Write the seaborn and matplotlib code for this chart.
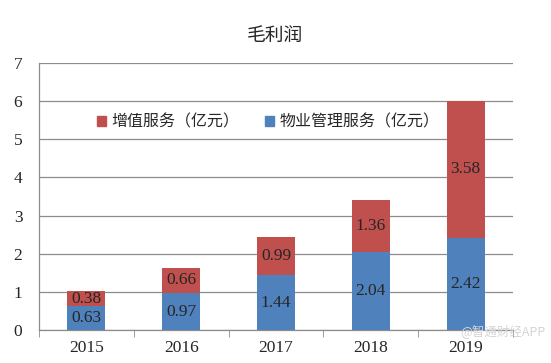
import pandas as pd
import seaborn as sns
import matplotlib.pyplot as plt
from matplotlib.patches import Patch

# Dati
years = ['2015', '2016', '2017', '2018', '2019']
property_mgmt = [0.63, 0.97, 1.44, 2.04, 2.42]
value_added = [0.38, 0.66, 0.99, 1.36, 3.58]

red = '#C0504D'
blue = '#4F81BD'

df = pd.DataFrame({'year': years, 'pm': property_mgmt, 'va': value_added})
df['total'] = df['pm'] + df['va']

sns.set_style('white')
plt.rcParams['font.family'] = ['Noto Sans CJK SC', 'DejaVu Sans']

fig = plt.figure(figsize=(5.51, 3.63), dpi=100)
ax = fig.add_axes([0.0708, 0.0909, 0.8603, 0.7355])

# barre impilate: il totale (rosso) sotto, la parte blu sopra
sns.barplot(data=df, x='year', y='total', color=red, width=0.4, saturation=1,
            linewidth=0, ax=ax, zorder=3)
sns.barplot(data=df, x='year', y='pm', color=blue, width=0.4, saturation=1,
            linewidth=0, ax=ax, zorder=4)

serif = ['Liberation Serif', 'DejaVu Serif']
for i, row in df.iterrows():
    ax.text(i, row['pm'] / 2, f"{row['pm']:.2f}", ha='center', va='center',
            fontsize=12.5, family=serif, zorder=5)
    ax.text(i, row['pm'] + row['va'] / 2, f"{row['va']:.2f}", ha='center', va='center',
            fontsize=12.5, family=serif, zorder=5)

ax.set_ylim(0, 7)
ax.set_xlim(-0.5, 4.5)
ax.set_yticks(range(8))
ax.yaxis.grid(True, color='#8c8c8c', linewidth=0.9, zorder=0)
ax.set_axisbelow(True)
ax.set_xlabel('')
ax.set_ylabel('')

for s in ['top', 'right']:
    ax.spines[s].set_visible(False)
for s in ['left', 'bottom']:
    ax.spines[s].set_color('#8c8c8c')
    ax.spines[s].set_linewidth(0.9)

# tacche dell'asse x tra le categorie
ax.set_xticks([x - 0.5 for x in range(6)], minor=True)
ax.tick_params(axis='x', which='minor', length=5, color='#8c8c8c', direction='out', bottom=True)
ax.tick_params(axis='x', which='major', length=0, pad=7)
ax.tick_params(axis='y', length=0, pad=12)
for lab in ax.get_xticklabels() + ax.get_yticklabels():
    lab.set_family(serif)
    lab.set_fontsize(12.5)

handles = [Patch(color=red, label='增值服务（亿元）'), Patch(color=blue, label='物业管理服务（亿元）')]
ax.legend(handles=handles, loc='center', bbox_to_anchor=(0.484, 0.779), ncol=2, frameon=False,
          fontsize=11.5, handlelength=0.55, handleheight=0.55, handletextpad=0.35, columnspacing=1.6)

fig.text(0.5, 0.902, '毛利润', ha='center', va='center', fontsize=13.5)
fig.text(0.99, 0.088, '@智通财经APP', ha='right', va='center', fontsize=9, color='#d4d4d4', zorder=6)

fig.savefig('out.png', dpi=100)
